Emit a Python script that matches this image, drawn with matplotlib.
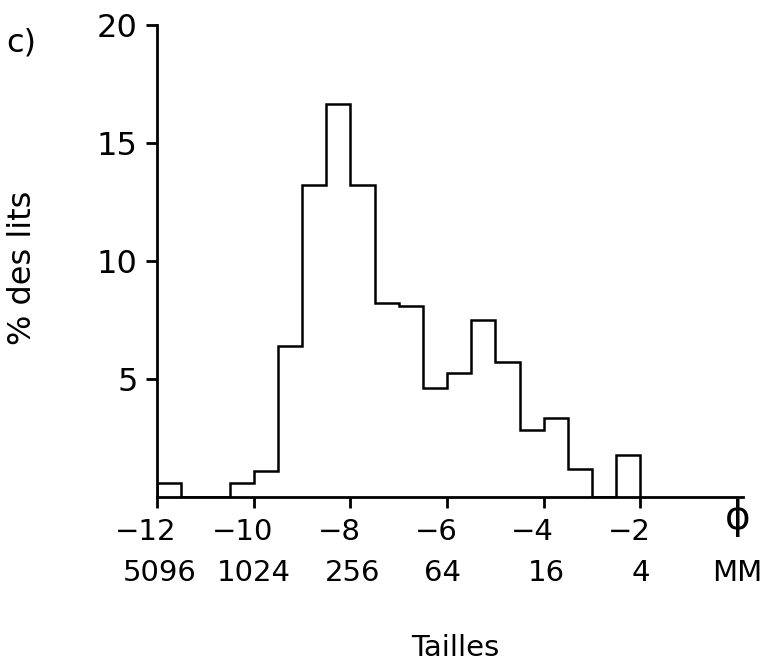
import matplotlib
matplotlib.use("Agg")
import matplotlib.pyplot as plt
import matplotlib.transforms as mtransforms

plt.rcParams['font.family'] = ['DejaVu Sans']

# bins of 0.5 phi from -12 to -2
edges = [-12 + 0.5 * i for i in range(21)]
pct = [0.6, 0, 0, 0.6, 1.1, 6.4, 13.2, 16.65, 13.2, 8.2,
       8.1, 4.6, 5.25, 7.5, 5.7, 2.85, 3.35, 1.2, 0, 1.8]

phi_ticks = [-12, -10, -8, -6, -4, -2]
phi_labels = ["\u221212", "\u221210", "\u22128", "\u22126", "\u22124", "\u22122"]
mm_pos = [-11.95, -10, -7.95, -6.1, -3.95, -2, 0]
mm_labels = ["5096", "1024", "256", "64", "16", "4", "MM"]
y_ticks = [5, 10, 15, 20]

fig = plt.figure(figsize=(7.7, 6.68), dpi=100)
ax = fig.add_axes([157 / 770, 1 - 497 / 668, 586 / 770, 472 / 668])

ax.stairs(pct, edges, baseline=0, fill=False, color="black", linewidth=1.8)

ax.set_xlim(-12, 0.12)
ax.set_ylim(0, 20)
for s in ["top", "right"]:
    ax.spines[s].set_visible(False)
for s in ["left", "bottom"]:
    ax.spines[s].set_linewidth(2)

ax.set_xticks(phi_ticks)
ax.set_xticklabels(phi_labels)
ax.set_yticks(y_ticks)
ax.tick_params(axis="both", width=2, length=8, colors="black")
ax.tick_params(axis="x", pad=7, labelsize=21)
ax.tick_params(axis="y", pad=6, labelsize=23)

# shift the phi labels so the digits sit under the ticks
off = mtransforms.ScaledTranslation(-11 / 100, 0, fig.dpi_scale_trans)
for lab in ax.get_xticklabels():
    lab.set_transform(lab.get_transform() + off)

trans = ax.get_xaxis_transform()
ax.text(0, -0.005, "\u03d5", transform=trans, ha="center", va="top",
        fontsize=28, clip_on=False)
for x, t in zip(mm_pos, mm_labels):
    ax.text(x, -0.162, t, transform=trans, ha="center", va="center",
            fontsize=21, clip_on=False)

fig.text(455 / 770, 1 - 648 / 668, "Tailles", ha="center", va="center", fontsize=21)
fig.text(23 / 770, 1 - 268 / 668, "% des lits", ha="center", va="center",
         rotation=90, fontsize=23)
fig.text(21 / 770, 1 - 43 / 668, "c)", ha="center", va="center", fontsize=23)

fig.savefig("out.png", dpi=100)
